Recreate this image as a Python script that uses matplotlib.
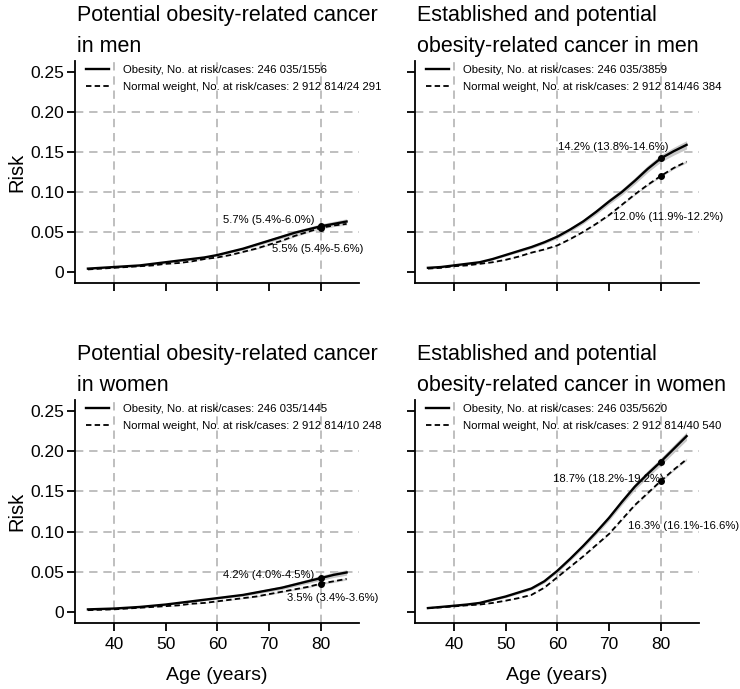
import matplotlib
matplotlib.use("Agg")
import matplotlib.pyplot as plt
import numpy as np

plt.rcParams['font.family'] = ['Liberation Sans', 'DejaVu Sans']

ages = [35, 37.5, 40, 42.5, 45, 47.5, 50, 52.5, 55, 57.5, 60, 62.5, 65, 67.5, 70,
        72.5, 75, 77.5, 80, 82.5, 85]

# Potential obesity-related cancer in men
men_pot_obese = [0.004, 0.005, 0.006, 0.007, 0.008, 0.010, 0.012, 0.014, 0.016, 0.018, 0.021,
                 0.025, 0.029, 0.034, 0.039, 0.044, 0.049, 0.053, 0.057, 0.060, 0.063]
men_pot_normal = [0.003, 0.004, 0.005, 0.006, 0.007, 0.008, 0.010, 0.011, 0.013, 0.016, 0.018,
                  0.021, 0.025, 0.029, 0.034, 0.039, 0.045, 0.050, 0.055, 0.058, 0.060]
# Established and potential obesity-related cancer in men
men_est_obese = [0.005, 0.006, 0.008, 0.010, 0.012, 0.016, 0.021, 0.026, 0.031, 0.037, 0.044,
                 0.053, 0.063, 0.075, 0.088, 0.100, 0.114, 0.129, 0.142, 0.151, 0.159]
men_est_normal = [0.004, 0.005, 0.007, 0.008, 0.010, 0.012, 0.015, 0.019, 0.024, 0.028, 0.033,
                  0.041, 0.050, 0.060, 0.071, 0.084, 0.097, 0.109, 0.120, 0.130, 0.138]
# Potential obesity-related cancer in women
wom_pot_obese = [0.003, 0.0035, 0.004, 0.005, 0.006, 0.0075, 0.009, 0.011, 0.013, 0.015, 0.017,
                 0.019, 0.021, 0.024, 0.027, 0.030, 0.034, 0.038, 0.042, 0.046, 0.049]
wom_pot_normal = [0.002, 0.0025, 0.003, 0.004, 0.005, 0.006, 0.007, 0.008, 0.010, 0.011, 0.013,
                  0.015, 0.017, 0.019, 0.022, 0.025, 0.028, 0.031, 0.035, 0.038, 0.041]
# Established and potential obesity-related cancer in women
wom_est_obese = [0.0046, 0.006, 0.0075, 0.009, 0.011, 0.015, 0.019, 0.024, 0.029, 0.038, 0.051,
                 0.066, 0.082, 0.099, 0.117, 0.137, 0.156, 0.172, 0.187, 0.203, 0.219]
wom_est_normal = [0.0046, 0.0055, 0.0067, 0.008, 0.009, 0.011, 0.0138, 0.017, 0.021, 0.030, 0.043,
                  0.056, 0.069, 0.083, 0.097, 0.115, 0.133, 0.148, 0.163, 0.177, 0.190]

# CI half-widths (obesity bands)
ci_pot_obese = [0.0005, 0.0005, 0.0006, 0.0006, 0.0007, 0.0008, 0.0009, 0.001, 0.0011, 0.0012, 0.0013,
                0.0014, 0.0016, 0.0018, 0.0020, 0.0022, 0.0024, 0.0027, 0.0030, 0.0032, 0.0034]
ci_est_obese = [0.0006, 0.0007, 0.0008, 0.0009, 0.001, 0.0012, 0.0014, 0.0016, 0.0018, 0.002, 0.0022,
                0.0025, 0.0028, 0.0031, 0.0034, 0.0037, 0.004, 0.0043, 0.0046, 0.0049, 0.0052]
ci_normal = [0.0002, 0.0002, 0.0002, 0.0002, 0.0003, 0.0003, 0.0003, 0.0004, 0.0004, 0.0005, 0.0005,
             0.0006, 0.0007, 0.0008, 0.0009, 0.0010, 0.0011, 0.0012, 0.0013, 0.0014, 0.0015]

titles = [["Potential obesity-related cancer", "in men"],
          ["Established and potential", "obesity-related cancer in men"],
          ["Potential obesity-related cancer", "in women"],
          ["Established and potential", "obesity-related cancer in women"]]
legend_obese = ["Obesity, No. at risk/cases: 246 035/1556",
                "Obesity, No. at risk/cases: 246 035/3859",
                "Obesity, No. at risk/cases: 246 035/1445",
                "Obesity, No. at risk/cases: 246 035/5620"]
legend_normal = ["Normal weight, No. at risk/cases: 2 912 814/24 291",
                 "Normal weight, No. at risk/cases: 2 912 814/46 384",
                 "Normal weight, No. at risk/cases: 2 912 814/10 248",
                 "Normal weight, No. at risk/cases: 2 912 814/40 540"]
point80_obese = [0.057, 0.142, 0.042, 0.187]
point80_normal = [0.055, 0.120, 0.035, 0.163]
label_obese = ["5.7% (5.4%-6.0%)", "14.2% (13.8%-14.6%)", "4.2% (4.0%-4.5%)", "18.7% (18.2%-19.2%)"]
label_normal = ["5.5% (5.4%-5.6%)", "12.0% (11.9%-12.2%)", "3.5% (3.4%-3.6%)", "16.3% (16.1%-16.6%)"]

obese_series = [men_pot_obese, men_est_obese, wom_pot_obese, wom_est_obese]
normal_series = [men_pot_normal, men_est_normal, wom_pot_normal, wom_est_normal]
obese_ci = [ci_pot_obese, ci_est_obese, ci_pot_obese, ci_est_obese]

xticks = [40, 50, 60, 70, 80]
yticks = [0, 0.05, 0.10, 0.15, 0.20, 0.25]
ytick_labels = ["0", "0.05", "0.10", "0.15", "0.20", "0.25"]
grid_x = [40, 60, 80]
grid_y = [0.05, 0.10, 0.15, 0.20]

W, H = 740, 689
fig = plt.figure(figsize=(W / 100, H / 100), dpi=100)

# axes boxes in pixels: left, top, right, bottom
boxes = [(75, 61, 359, 283), (415, 61, 699, 283), (75, 400, 359, 623), (415, 400, 699, 623)]
# annotation positions (x, y, ha) for obese / normal labels
ann_obese = [(78.8, 0.065, 'right'), (81.6, 0.156, 'right'), (78.8, 0.046, 'right'), (80.6, 0.165, 'right')]
ann_normal = [(70.5, 0.029, 'left'), (70.8, 0.069, 'left'), (73.4, 0.0175, 'left'), (73.7, 0.1075, 'left')]

grid_color = '#b4b4b4'
for i, (l, t, r, b) in enumerate(boxes):
    ax = fig.add_axes([l / W, 1 - b / H, (r - l) / W, (b - t) / H])
    ax.set_xlim(32.5, 87.4)
    ax.set_ylim(-0.014, 0.264)
    for gx in grid_x:
        ax.axvline(gx, color=grid_color, lw=1.2, ls=(0, (5, 3.5)), zorder=1)
    for gy in grid_y:
        ax.axhline(gy, color=grid_color, lw=1.2, ls=(0, (5, 3.5)), zorder=1)
    ob = np.array(obese_series[i])
    nw = np.array(normal_series[i])
    ci = np.array(obese_ci[i])
    cn = np.array(ci_normal)
    ax.fill_between(ages, ob - ci, ob + ci, color='#c8c8c8', lw=0, zorder=2)
    ax.fill_between(ages, nw - cn, nw + cn, color='#d4d4d4', lw=0, zorder=2)
    ax.plot(ages, ob, color='black', lw=1.7, zorder=3, label=legend_obese[i])
    ax.plot(ages, nw, color='black', lw=1.3, ls=(0, (3, 1.8)), zorder=3, label=legend_normal[i])
    ax.plot([80], [point80_obese[i]], 'o', color='black', ms=4, zorder=4)
    ax.plot([80], [point80_normal[i]], 'o', color='black', ms=4, zorder=4)
    xo, yo, hao = ann_obese[i]
    xn, yn, han = ann_normal[i]
    ax.text(xo, yo, label_obese[i], ha=hao, va='center', fontsize=8.1, zorder=5)
    ax.text(xn, yn, label_normal[i], ha=han, va='center', fontsize=8.1, zorder=5)

    ax.legend(loc='upper left', bbox_to_anchor=(0.038, 0.98), frameon=False, fontsize=8.2,
              handlelength=2.0, handletextpad=1.3, labelspacing=0.6, borderpad=0,
              borderaxespad=0)

    for s in ['top', 'right']:
        ax.spines[s].set_visible(False)
    for s in ['left', 'bottom']:
        ax.spines[s].set_linewidth(1.3)
    ax.set_xticks(xticks)
    ax.set_yticks(yticks)
    ax.tick_params(axis='both', direction='out', length=6, width=1.3, labelsize=12.5, pad=2)
    ax.tick_params(axis='x', pad=4)
    if i % 2 == 0:
        ax.set_yticklabels(ytick_labels)
        ax.set_ylabel("Risk", fontsize=14.5)
        ax.yaxis.set_label_coords(-0.17, 0.5)
    else:
        ax.set_yticklabels([])
    if i >= 2:
        ax.set_xticklabels([str(x) for x in xticks])
        ax.set_xlabel("Age (years)", fontsize=14, labelpad=11)
    else:
        ax.set_xticklabels([])

    # titles: two lines
    fig.text((l + 2) / W, 1 - (t - 40) / H, titles[i][0], fontsize=15.5, ha='left', va='baseline')
    fig.text((l + 2) / W, 1 - (t - 9) / H, titles[i][1], fontsize=15.5, ha='left', va='baseline')

fig.savefig("out.png", dpi=100)
